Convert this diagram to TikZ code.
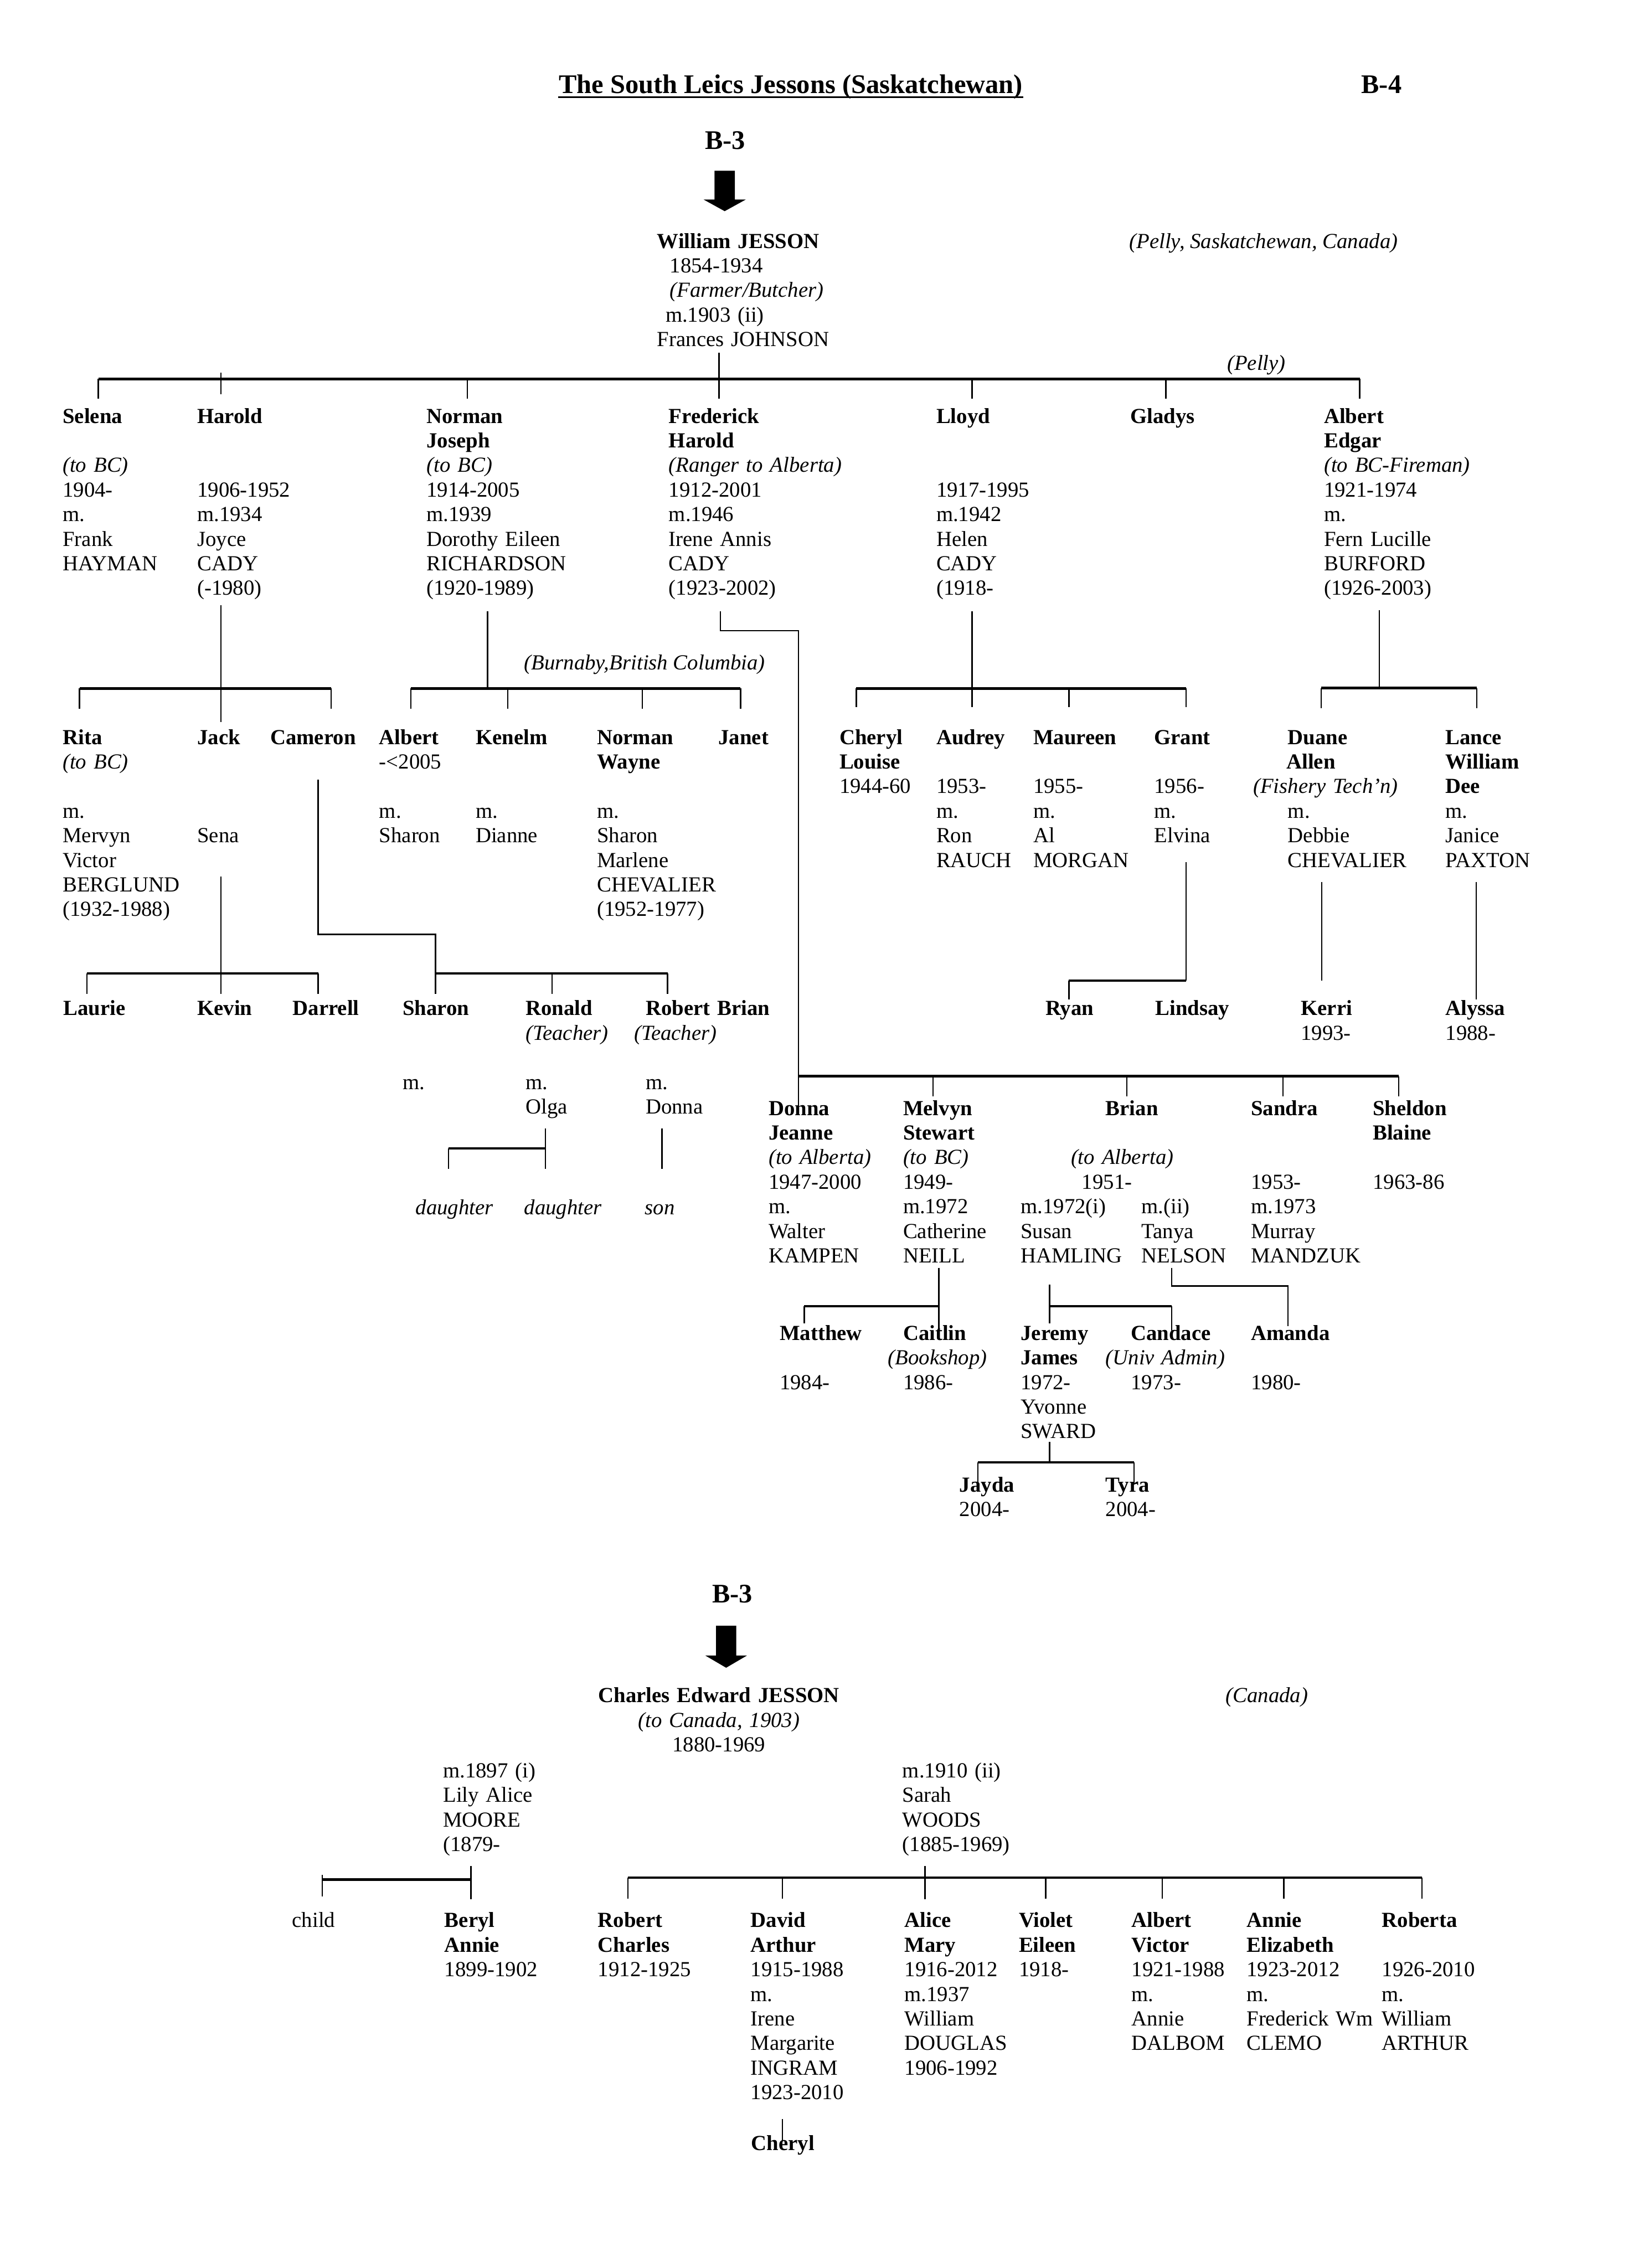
\documentclass[tikz,border=0pt]{standalone}
\usepackage{fontspec}
\setmainfont{Liberation Serif}
\newlength\upx
\setlength\upx{0.018939cm}
\newcommand\fsz{\fontsize{8pt}{9.16pt}\selectfont}
\newcommand\ind[1]{\hspace*{#1\upx}}
\tikzset{pbox/.style={
    anchor=base west,
    align=left,
    text width=3.4cm,
    inner sep=0pt,
    font=\fsz
  },
  ctrbox/.style={pbox,anchor=base,align=center,text width=5cm},
  headbox/.style={anchor=base west,inner sep=0pt,font=\fontsize{10pt}{12pt}\selectfont\bfseries},
  note/.style={anchor=base west,inner sep=0pt,font=\fsz\itshape},
  bar/.style={line width=0.9pt},
  drop/.style={line width=0.5pt},
  uline/.style={line width=0.7pt},
}
\begin{document}
\begin{tikzpicture}[x=0.018939cm,y=-0.018939cm]
  \useasboundingbox (0,0) rectangle (1140,1568);

  % heading
  \node[headbox] (title) at (386,64.5) {The South Leics Jessons (Saskatchewan)};
  \draw[uline] ([yshift=-1.5pt]title.base west) -- ([yshift=-1.5pt]title.base east);
  \node[headbox] (pageid) at (940.8,64.5) {B-4};
  \node[headbox] (fromA) at (487,103) {B-3};
  \coordinate (arrA) at (501,118);
  \fill (arrA) +(-7,0) -- +(7,0) -- +(7,20) -- +(14.5,20) -- +(0,28) -- +(-14.5,20) -- +(-7,20) -- cycle;

  \node[pbox] (william) at (454,171.5) {\textbf{William JESSON}\\\ind{8.7}1854-1934\\\ind{8.7}\textit{(Farmer/Butcher)}\\\ind{5.8}m.1903 (ii)\\Frances JOHNSON};
  \node[note] (pellyA) at (780.4,171.5) {(Pelly, Saskatchewan, Canada)};
  \node[note] (pellyB) at (848,256) {(Pelly)};

  % William's children
  \node[pbox] (selena) at (43,292.5) {\textbf{Selena}\\\mbox{}\\\textit{(to BC)}\\1904-\\m.\\Frank\\HAYMAN};
  \node[pbox] (harold) at (136,292.5) {\textbf{Harold}\\\mbox{}\\\mbox{}\\1906-1952\\m.1934\\Joyce\\CADY\\(-1980)};
  \node[pbox] (normanj) at (294.6,292.5) {\textbf{Norman}\\\textbf{Joseph}\\\textit{(to BC)}\\1914-2005\\m.1939\\Dorothy Eileen\\RICHARDSON\\(1920-1989)};
  \node[pbox] (frederick) at (462,292.5) {\textbf{Frederick}\\\textbf{Harold}\\\textit{(Ranger to Alberta)}\\1912-2001\\m.1946\\Irene Annis\\CADY\\(1923-2002)};
  \node[pbox] (lloyd) at (647,292.5) {\textbf{Lloyd}\\\mbox{}\\\mbox{}\\1917-1995\\m.1942\\Helen\\CADY\\(1918-};
  \node[pbox] (gladys) at (781,292.5) {\textbf{Gladys}};
  \node[pbox] (alberte) at (915,292.5) {\textbf{Albert}\\\textbf{Edgar}\\\textit{(to BC-Fireman)}\\1921-1974\\m.\\Fern Lucille\\BURFORD\\(1926-2003)};

  % grandchildren
  \node[note] (burnaby) at (362,463) {(Burnaby,British Columbia)};
  \node[pbox] (rita) at (43,514.5) {\textbf{Rita}\\\textit{(to BC)}\\\mbox{}\\m.\\Mervyn\\Victor\\BERGLUND\\(1932-1988)};
  \node[pbox] (jack) at (136,514.5) {\textbf{Jack}\\\mbox{}\\\mbox{}\\\mbox{}\\Sena};
  \node[pbox] (cameron) at (186.5,514.5) {\textbf{Cameron}};
  \node[pbox] (alberts) at (261.8,514.5) {\textbf{Albert}\\-<2005\\\mbox{}\\m.\\Sharon};
  \node[pbox] (kenelm) at (328.5,514.5) {\textbf{Kenelm}\\\mbox{}\\\mbox{}\\m.\\Dianne};
  \node[pbox] (normanw) at (412.4,514.5) {\textbf{Norman}\\\textbf{Wayne}\\\mbox{}\\m.\\Sharon\\Marlene\\CHEVALIER\\(1952-1977)};
  \node[pbox] (janet) at (496.3,514.5) {\textbf{Janet}};
  \node[pbox] (cheryl) at (580,514.5) {\textbf{Cheryl}\\\textbf{Louise}\\1944-60};
  \node[pbox] (audrey) at (647,514.5) {\textbf{Audrey}\\\mbox{}\\1953-\\m.\\Ron\\RAUCH};
  \node[pbox] (maureen) at (714,514.5) {\textbf{Maureen}\\\mbox{}\\1955-\\m.\\Al\\MORGAN};
  \node[pbox] (grant) at (797.6,514.5) {\textbf{Grant}\\\mbox{}\\1956-\\m.\\Elvina};
  \node[pbox] (duane) at (866,514.5) {\ind{24}\textbf{Duane}\\\ind{23}\textbf{Allen}\\\textit{(Fishery Tech’n)}\\\ind{24}m.\\\ind{24}Debbie\\\ind{24}CHEVALIER};
  \node[pbox] (lance) at (999,514.5) {\textbf{Lance}\\\textbf{William}\\\textbf{Dee}\\m.\\Janice\\PAXTON};

  \node[pbox] (laurie) at (43.5,702) {\textbf{Laurie}};
  \node[pbox] (kevin) at (136,702) {\textbf{Kevin}};
  \node[pbox] (darrell) at (202,702) {\textbf{Darrell}};
  \node[pbox] (sharon) at (278,702) {\textbf{Sharon}\\\mbox{}\\\mbox{}\\m.};
  \node[pbox] (ronald) at (363,702) {\textbf{Ronald}\\\textit{(Teacher)}\\\mbox{}\\m.\\Olga};
  \node[pbox] (robertb) at (446,702) {\textbf{Robert Brian}\\\ind{-8}\textit{(Teacher)}\\\mbox{}\\m.\\Donna};
  \node[pbox] (ryan) at (722.5,702) {\textbf{Ryan}};
  \node[pbox] (lindsay) at (798.4,702) {\textbf{Lindsay}};
  \node[pbox] (kerri) at (899,702) {\textbf{Kerri}\\1993-};
  \node[pbox] (alyssa) at (999,702) {\textbf{Alyssa}\\1988-};
  \node[note] (dau1) at (287,839.5) {daughter};
  \node[note] (dau2) at (362,839.5) {daughter};
  \node[note] (son) at (445.5,839.5) {son};

  % Frederick's line
  \node[pbox] (donna) at (531,771) {\textbf{Donna}\\\textbf{Jeanne}\\\textit{(to Alberta)}\\1947-2000\\m.\\Walter\\KAMPEN};
  \node[pbox] (melvyn) at (624,771) {\textbf{Melvyn}\\\textbf{Stewart}\\\textit{(to BC)}\\1949-\\m.1972\\Catherine\\NEILL};
  \node[pbox] (brian) at (705.3,771) {\ind{58.7}\textbf{Brian}\\\mbox{}\\\ind{34.7}\textit{(to Alberta)}\\\ind{42.3}1951-\\m.1972(i)\\Susan\\HAMLING};
  \node[pbox] (tanya) at (788.8,839) {m.(ii)\\Tanya\\NELSON};
  \node[pbox] (sandra) at (864.5,771) {\textbf{Sandra}\\\mbox{}\\\mbox{}\\1953-\\m.1973\\Murray\\MANDZUK};
  \node[pbox] (sheldon) at (948.7,771) {\textbf{Sheldon}\\\textbf{Blaine}\\\mbox{}\\1963-86};
  \node[pbox] (matthew) at (538.7,926.5) {\textbf{Matthew}\\\mbox{}\\1984-};
  \node[pbox] (caitlin) at (613.6,926.5) {\ind{10.4}\textbf{Caitlin}\\\textit{(Bookshop)}\\\ind{10.4}1986-};
  \node[pbox] (jeremy) at (705.3,926.5) {\textbf{Jeremy}\\\textbf{James}\\1972-\\Yvonne\\SWARD};
  \node[pbox] (candace) at (764,926.5) {\ind{17.5}\textbf{Candace}\\\textit{(Univ Admin)}\\\ind{17.5}1973-};
  \node[pbox] (amanda) at (864.5,926.5) {\textbf{Amanda}\\\mbox{}\\1980-};
  \node[pbox] (jayda) at (663,1031.5) {\textbf{Jayda}\\2004-};
  \node[pbox] (tyra) at (764,1031.5) {\textbf{Tyra}\\2004-};

  % connectors: William
  \coordinate (william-dn) at (497,244);
  \coordinate (w-l) at (68,262);
  \coordinate (w-r) at (940,262);
  \foreach \n/\x in {selena/68,normanj/323,frederick/497,lloyd/672,gladys/806,alberte/940}
    \coordinate (\n-up) at (\x,275.5);
  \coordinate (harold-up) at (152.7,272.5);
  \draw[bar] (w-l) -- (w-r);
  \draw[drop] (william-dn) -- (frederick-up);
  \foreach \n in {selena,normanj,lloyd,gladys,alberte}
    \draw[drop] (\n-up |- w-l) -- (\n-up);
  \draw[drop] (harold-up) -- ++(0,-15);

  % connectors: Harold, Norman, Lloyd, Albert
  \coordinate (harold-dn) at (152.7,418.5);
  \coordinate (h-l) at (55,476);
  \coordinate (h-r) at (229,476);
  \coordinate (jack-up) at (152.7,499);
  \coordinate (rita-up) at (55,490);
  \coordinate (cameron-up) at (229,490);
  \draw[drop] (harold-dn) -- (jack-up);
  \draw[bar] (h-l) -- (h-r);
  \foreach \n in {rita,cameron} \draw[drop] (\n-up |- h-l) -- (\n-up);

  \coordinate (normanj-dn) at (337,422.5);
  \coordinate (n-l) at (284,476);
  \coordinate (n-r) at (512,476);
  \foreach \n/\x in {alberts/284,kenelm/351,normanw/444,janet/512}
    \coordinate (\n-up) at (\x,490);
  \draw[drop] (normanj-dn) -- (normanj-dn |- n-l);
  \draw[bar] (n-l) -- (n-r);
  \foreach \n in {alberts,kenelm,normanw,janet} \draw[drop] (\n-up |- n-l) -- (\n-up);

  \coordinate (lloyd-dn) at (672,422.5);
  \coordinate (l-l) at (592,476);
  \coordinate (l-r) at (820,476);
  \coordinate (audrey-up) at (672,489);
  \foreach \n/\x in {cheryl/592,maureen/739,grant/820}
    \coordinate (\n-up) at (\x,489);
  \draw[drop] (lloyd-dn) -- (audrey-up);
  \draw[bar] (l-l) -- (l-r);
  \foreach \n in {cheryl,maureen,grant} \draw[drop] (\n-up |- l-l) -- (\n-up);

  \coordinate (alberte-dn) at (953.5,422);
  \coordinate (a-l) at (913.4,475.7);
  \coordinate (a-r) at (1021,475.7);
  \coordinate (duane-up) at (913.4,489.5);
  \coordinate (lance-up) at (1021,489.5);
  \draw[drop] (alberte-dn) -- (alberte-dn |- a-l);
  \draw[bar] (a-l) -- (a-r);
  \foreach \n in {duane,lance} \draw[drop] (\n-up |- a-l) -- (\n-up);

  % connectors: Frederick
  \coordinate (frederick-dn) at (498,422.5);
  \coordinate (fr-bend) at (552,436);
  \coordinate (donna-up) at (552,767);
  \coordinate (f-l) at (552,744);
  \coordinate (f-r) at (967,744);
  \foreach \n/\x in {melvyn/645,brian/779,sandra/887,sheldon/967}
    \coordinate (\n-up) at (\x,758);
  \draw[drop] (frederick-dn) |- (fr-bend) -- (donna-up);
  \draw[bar] (f-l) -- (f-r);
  \foreach \n in {melvyn,brian,sandra,sheldon} \draw[drop] (\n-up |- f-l) -- (\n-up);

  % connectors: next generation
  \coordinate (jack-dn) at (152.7,606);
  \coordinate (kevin-up) at (152.7,687);
  \coordinate (j-l) at (60,673);
  \coordinate (j-r) at (220,673);
  \coordinate (laurie-up) at (60,687);
  \coordinate (darrell-up) at (220,687);
  \draw[drop] (jack-dn) -- (kevin-up);
  \draw[bar] (j-l) -- (j-r);
  \foreach \n in {laurie,darrell} \draw[drop] (\n-up |- j-l) -- (\n-up);

  \coordinate (cameron-dn) at (220,539);
  \coordinate (cam-bend) at (301,646);
  \coordinate (sharon-up) at (301,687);
  \coordinate (c-l) at (301,673);
  \coordinate (c-r) at (461.5,673);
  \coordinate (ronald-up) at (381.6,687);
  \coordinate (robertb-up) at (461.5,687);
  \draw[drop] (cameron-dn) |- (cam-bend) -- (sharon-up);
  \draw[bar] (c-l) -- (c-r);
  \foreach \n in {ronald,robertb} \draw[drop] (\n-up |- c-l) -- (\n-up);

  \coordinate (grant-dn) at (820,596);
  \coordinate (lindsay-up) at (820,678);
  \coordinate (ryan-up) at (739,691);
  \draw[drop] (grant-dn) -- (lindsay-up);
  \draw[bar] (ryan-up |- lindsay-up) -- (lindsay-up);
  \draw[drop] (ryan-up |- lindsay-up) -- (ryan-up);

  \coordinate (duane-dn) at (913.8,609.7);
  \coordinate (kerri-up) at (913.8,678);
  \coordinate (lance-dn) at (1020.5,609.7);
  \coordinate (alyssa-up) at (1020.5,690.8);
  \draw[drop] (duane-dn) -- (kerri-up);
  \draw[drop] (lance-dn) -- (alyssa-up);

  \coordinate (ronald-dn) at (377,780);
  \coordinate (dau2-up) at (377,808);
  \coordinate (dau1-up) at (310,808);
  \coordinate (r-l) at (310,794);
  \draw[drop] (ronald-dn) -- (dau2-up);
  \draw[bar] (r-l) -- (r-l -| ronald-dn);
  \draw[drop] (r-l) -- (dau1-up);
  \coordinate (robertb-dn) at (457.6,780);
  \coordinate (son-up) at (457.6,808);
  \draw[drop] (robertb-dn) -- (son-up);

  \coordinate (melvyn-dn) at (649,876.5);
  \coordinate (caitlin-up) at (649,925);
  \coordinate (m-l) at (556,903);
  \coordinate (matthew-up) at (556,915);
  \draw[drop] (melvyn-dn) -- (caitlin-up);
  \draw[bar] (m-l) -- (m-l -| melvyn-dn);
  \draw[drop] (m-l) -- (matthew-up);

  \coordinate (brian-dn) at (725.6,888);
  \coordinate (jeremy-up) at (725.6,915);
  \coordinate (b-r) at (810,903);
  \coordinate (candace-up) at (810,920);
  \draw[drop] (brian-dn) -- (jeremy-up);
  \draw[bar] (brian-dn |- b-r) -- (b-r);
  \draw[drop] (b-r) -- (candace-up);

  \coordinate (tanya-dn) at (810,876.5);
  \coordinate (am-bend) at (890.5,889);
  \coordinate (amanda-up) at (890.5,917);
  \draw[drop] (tanya-dn) |- (am-bend) -- (amanda-up);

  \coordinate (jeremy-dn) at (725.6,997);
  \coordinate (jy-l) at (676,1011);
  \coordinate (jy-r) at (784,1011);
  \coordinate (jayda-up) at (676,1026);
  \coordinate (tyra-up) at (784,1026);
  \draw[drop] (jeremy-dn) -- (jeremy-dn |- jy-l);
  \draw[bar] (jy-l) -- (jy-r);
  \foreach \n in {jayda,tyra} \draw[drop] (\n-up |- jy-l) -- (\n-up);

  % Charles Edward JESSON
  \node[headbox] (fromB) at (492,1108) {B-3};
  \coordinate (arrB) at (502,1124);
  \fill (arrB) +(-7,0) -- +(7,0) -- +(7,20.5) -- +(14.5,20.5) -- +(0,29) -- +(-14.5,20.5) -- +(-7,20.5) -- cycle;
  \node[ctrbox] (charles) at (497,1177) {\textbf{Charles Edward JESSON}\\\textit{(to Canada, 1903)}\\1880-1969};
  \node[note] (canada) at (847,1177) {(Canada)};
  \node[pbox] (lily) at (306,1229) {m.1897 (i)\\Lily Alice\\MOORE\\(1879-};
  \node[pbox] (sarah) at (623.6,1229) {m.1910 (ii)\\Sarah\\WOODS\\(1885-1969)};

  \node[pbox] (child) at (201.6,1332.5) {child};
  \node[pbox] (beryl) at (307,1332.5) {\textbf{Beryl}\\\textbf{Annie}\\1899-1902};
  \node[pbox] (robert) at (413,1332.5) {\textbf{Robert}\\\textbf{Charles}\\1912-1925};
  \node[pbox] (david) at (518.6,1332.5) {\textbf{David}\\\textbf{Arthur}\\1915-1988\\m.\\Irene\\Margarite\\INGRAM\\1923-2010};
  \node[pbox] (alice) at (625,1332.5) {\textbf{Alice}\\\textbf{Mary}\\1916-2012\\m.1937\\William\\DOUGLAS\\1906-1992};
  \node[pbox] (violet) at (704,1332.5) {\textbf{Violet}\\\textbf{Eileen}\\1918-};
  \node[pbox] (albertv) at (782,1332.5) {\textbf{Albert}\\\textbf{Victor}\\1921-1988\\m.\\Annie\\DALBOM};
  \node[pbox] (annie) at (861.5,1332.5) {\textbf{Annie}\\\textbf{Elizabeth}\\1923-2012\\m.\\Frederick Wm\\CLEMO};
  \node[pbox] (roberta) at (955,1332.5) {\textbf{Roberta}\\\mbox{}\\1926-2010\\m.\\William\\ARTHUR};
  \node[pbox] (cherylb) at (519,1486.6) {\textbf{Cheryl}};

  \coordinate (lily-dn) at (325.5,1290);
  \coordinate (beryl-up) at (325.5,1313);
  \coordinate (cl-l) at (222.7,1299.4);
  \coordinate (child-up) at (222.7,1311);
  \draw[drop] (lily-dn) -- (beryl-up);
  \draw[bar] (cl-l) -- (cl-l -| lily-dn);
  \draw[drop] (child-up) -- ++(0,-15);

  \coordinate (sarah-dn) at (639.5,1290);
  \coordinate (alice-up) at (639.5,1313);
  \coordinate (s-l) at (434,1298);
  \coordinate (s-r) at (983,1298);
  \foreach \n/\x in {robert/434,david/540.8,violet/723,albertv/803.6,annie/887.5,roberta/983}
    \coordinate (\n-up) at (\x,1312.5);
  \draw[drop] (sarah-dn) -- (alice-up);
  \draw[bar] (s-l) -- (s-r);
  \foreach \n in {robert,david,violet,albertv,annie,roberta} \draw[drop] (\n-up |- s-l) -- (\n-up);
  \coordinate (david-dn) at (541,1465);
  \coordinate (cherylb-up) at (541,1480);
  \draw[drop] (david-dn) -- (cherylb-up);
\end{tikzpicture}
\end{document}
